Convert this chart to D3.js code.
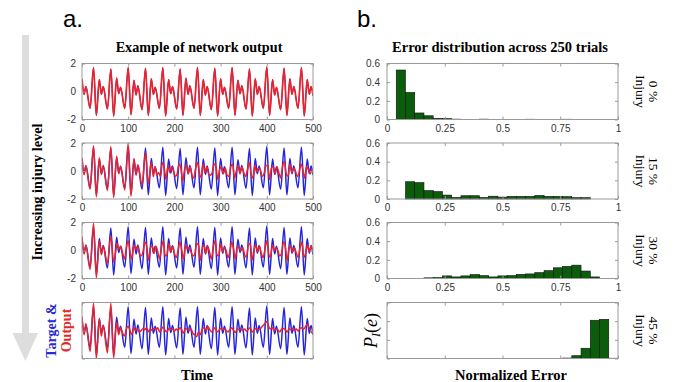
<!DOCTYPE html>
<html>
<head>
<meta charset="utf-8">
<script src="https://cdn.jsdelivr.net/npm/d3@7"></script>
<style>
  body { margin: 0; background: #fff; }
</style>
</head>
<body>
<script>
const target = [
  [0,0.9],[4.5,-0.2],[8.5,0.35],[17.5,-1.2],
  [25,1.7],[31,-1.7],[37.5,0.85],[42,-0.2],[46,0.35],[55,-1.25],
  [62.5,1.6],[68.5,-1.75],[75,0.95],[79.5,-0.15],[83.5,0.3],[92.5,-1.2],
  [100,1.7],[106,-1.65],[112.5,0.8],[117,-0.25],[121,0.4],[130,-1.3],
  [137.5,1.65],[143.5,-1.7],[150,0.9],[154.5,-0.2],[158.5,0.3],[167.5,-1.2],
  [175,1.7],[181,-1.75],[187.5,0.85],[192,-0.15],[196,0.35],[205,-1.25],
  [212.5,1.6],[218.5,-1.7],[225,0.95],[229.5,-0.2],[233.5,0.4],[242.5,-1.2],
  [250,1.7],[256,-1.7],[262.5,0.85],[267,-0.25],[271,0.35],[280,-1.3],
  [287.5,1.65],[293.5,-1.75],[300,0.9],[304.5,-0.2],[308.5,0.3],[317.5,-1.2],
  [325,1.7],[331,-1.7],[337.5,0.8],[342,-0.15],[346,0.4],[355,-1.25],
  [362.5,1.6],[368.5,-1.75],[375,0.9],[379.5,-0.2],[383.5,0.35],[392.5,-1.2],
  [400,1.75],[406,-1.7],[412.5,0.85],[417,-0.25],[421,0.3],[430,-1.3],
  [437.5,1.65],[443.5,-1.7],[450,0.9],[454.5,-0.2],[458.5,0.35],[467.5,-1.2],
  [475,1.7],[481,-1.75],[487.5,0.85],[492,-0.2],[496,0.35],[500,-0.3]
];

// network outputs: tracked part as turning points, then samples every 4 time units
const out15Head = [
  [0,0.95],[4.5,-0.25],[8.5,0.4],[17.5,-1.3],[25,1.8],[31,-1.85],[37.5,0.95],[42,-0.25],
  [46,0.4],[55,-1.4],[62.5,1.75],[68.5,-1.9],[75,1.05],[79.5,-0.2],[83.5,0.35],[92.5,-1.35],
  [100,2.0],[106,-1.8],[112.5,0.9],[117,-0.3],[121,0.45],[130,-1.0],[137.5,1.3],[143.5,-0.9],
  [150,0.6],[154.5,-0.4]
];
const out15Start = 158;
const out15Noise = [
  0.3,-0.3,-0.1,-0.4,0.6,0.2,-0.6,0.4,-0.1,0.3,0.0,-0.4,-0.2,0.5,0.2,-0.7,0.1,0.4,-0.2,0.3,
  -0.3,-0.5,0.2,0.6,-0.1,-0.5,0.5,-0.1,0.3,-0.2,-0.3,-0.1,0.5,0.3,-0.6,0.1,0.3,-0.2,0.2,-0.3,
  -0.4,0.3,0.5,-0.5,0.0,0.4,-0.2,0.3,-0.1,-0.4,0.1,0.6,-0.2,-0.5,0.4,-0.1,0.2,0.1,-0.4,-0.2,
  0.4,0.4,-0.6,0.2,0.3,-0.2,0.3,-0.1,-0.5,0.3,0.7,-0.2,-0.4,0.5,-0.1,0.2,0.0,-0.4,-0.1,0.5,
  0.1,-0.5,0.3,0.1,-0.2,0.2
];

const out30Head = [
  [0,1.0],[4.5,-0.25],[8.5,0.4],[17.5,-1.35],[25,1.95],[31,-1.95],[37.5,0.7],[42,-0.3],
  [46,0.3],[55,-0.9],[62.5,1.0],[68.5,-0.8]
];
const out30Start = 72;
const out30Noise = [
  -0.3,0.5,0.1,0.3,-0.2,-0.6,0.2,0.7,-0.1,-0.6,0.4,0.1,0.3,-0.2,-0.4,-0.1,0.6,0.3,-0.7,0.2,
  0.3,-0.2,0.3,-0.1,-0.6,0.2,0.7,-0.4,-0.3,0.5,-0.1,0.3,-0.2,-0.5,0.0,0.6,0.0,-0.6,0.4,0.1,
  0.2,-0.1,-0.4,-0.3,0.5,0.4,-0.7,0.1,0.4,-0.2,0.3,-0.1,-0.6,0.2,0.7,-0.3,-0.4,0.5,-0.1,0.2,
  0.0,-0.5,-0.1,0.6,0.1,-0.6,0.3,0.2,0.0,0.2,-0.3,-0.5,0.4,0.5,-0.7,0.0,0.4,-0.1,0.3,-0.2,
  -0.5,0.1,0.7,-0.2,-0.5,0.4,0.0,0.2,0.0,-0.4,-0.2,0.6,0.3,-0.7,0.1,0.3,-0.1,0.2,-0.2,-0.5,
  0.2,0.6,-0.5,-0.2,0.4,-0.1,0.3,-0.1
];

const out45Head = [
  [0,1.0],[4.5,-0.3],[8.5,0.5],[17.5,-1.5],[25,1.95],[31,-2.0],[37.5,0.8],[42,-0.4],
  [46,0.4],[55,-1.6],[62.5,1.95],[68.5,-1.95],[75,0.6],[79.5,-0.3],[83.5,0.2]
];
const out45Start = 88;
const out45Noise = [
  -0.2,-0.4,0.1,0.3,0.0,-0.3,0.2,0.0,0.1,-0.1,0.0,0.15,0.05,0.2,-0.1,0.1,0.0,0.15,0.05,0.2,
  -0.1,0.1,0.25,0.0,-0.1,0.15,0.05,0.1,-0.05,0.1,0.0,0.2,0.05,-0.2,0.15,0.1,0.0,0.1,-0.2,-0.3,
  -0.45,-0.1,-0.3,0.1,0.2,0.0,0.3,0.1,-0.1,0.05,0.2,-0.1,0.0,0.15,0.05,0.1,0.0,-0.1,0.05,0.2,
  0.0,-0.15,0.1,0.05,0.1,0.0,0.1,-0.05,0.1,0.2,-0.1,0.0,0.15,0.05,0.1,0.2,0.35,0.5,0.65,0.3,
  0.1,0.2,0.0,0.1,0.05,-0.1,0.1,0.15,0.05,-0.1,0.1,0.05,0.1,0.0,0.1,-0.05,0.15,0.2,0.1,0.3,
  0.45,0.2,-0.1,-0.2
];
const noiseStep = 4;

// error histograms, bin width 0.04 from 0 to 1
const binWidth = 0.04;
const hist0  = [0,0.53,0.29,0.07,0.04,0.013,0.01,0.004,0.002,0.001,0.004,0.001,0.001,0.001,0.001,0.003,0.001,0.001,0.001,0.003,0.001,0.001,0.001,0,0];
const hist15 = [0,0,0.185,0.175,0.09,0.08,0.042,0.017,0.035,0.035,0.017,0.03,0.02,0.028,0.028,0.028,0.038,0.028,0.028,0.025,0.014,0.014,0,0,0];
const hist30 = [0,0,0,0.002,0.007,0.01,0.028,0.017,0.028,0.042,0.031,0.017,0.028,0.031,0.045,0.049,0.063,0.084,0.115,0.13,0.143,0.08,0.017,0,0];
const hist45 = [0,0,0,0,0,0,0,0,0,0,0,0,0.001,0,0.001,0.001,0,0.001,0.002,0.005,0.03,0.11,0.41,0.42,0.003];

const timeTicks = [0,100,200,300,400,500];
const signalTicks = [-2,0,2];
const signalLabels = ["-2","0","2"];
const errorTicks = [0,0.25,0.5,0.75,1];
const errorLabels = ["0","0.25","0.5","0.75","1"];
const probTicks = [0,0.2,0.4,0.6];
const probLabels = ["0","0.2","0.4","0.6"];
const injuryLevels = ["0 %","15 %","30 %","45 %"];

const W = 677, H = 382;
const panelTops = [63.5, 143, 222.5, 302.5];
const panelH = 56;
const blue = "#2424dc", red = "#e8232b", frameColor = "#9a9a9a";
const serif = "'Liberation Serif', 'Times New Roman', serif";
const sans = "'Liberation Sans', Arial, sans-serif";

const svg = d3.select("body").append("svg")
    .attr("width", W).attr("height", H)
    .style("background", "#fff");

const tX = d3.scaleLinear().domain([0, 500]).range([82, 313]);
const eX = d3.scaleLinear().domain([0, 1]).range([387, 618]);

function withNoise(head, start, values) {
    return head.concat(values.map((v, i) => [start + i * noiseStep, v]));
}
const outputs = [
    target,
    withNoise(out15Head, out15Start, out15Noise),
    withNoise(out30Head, out30Start, out30Noise),
    withNoise(out45Head, out45Start, out45Noise)
];
const hists = [hist0, hist15, hist30, hist45];

function styleAxis(g) {
    g.attr("font-family", sans).attr("font-size", 10);
    g.select(".domain").remove();
    g.selectAll(".tick line").attr("stroke", frameColor);
    g.selectAll(".tick text").attr("fill", "#333");
}

function drawAxes(g, x, y, xTicks, xLabels, yTicks, yLabels, show, yPad) {
    const x0 = x.range()[0], x1 = x.range()[1];
    g.append("g").attr("transform", `translate(0,${panelH})`)
        .call(d3.axisBottom(x).tickValues(xTicks).tickSize(-3).tickPadding(5)
            .tickFormat((d, i) => show ? xLabels[i] : ""))
        .call(styleAxis);
    g.append("g")
        .call(d3.axisTop(x).tickValues(xTicks).tickSize(-3).tickFormat(""))
        .call(styleAxis);
    g.append("g").attr("transform", `translate(${x0},0)`)
        .call(d3.axisLeft(y).tickValues(yTicks).tickSize(-3).tickPadding(yPad)
            .tickFormat((d, i) => show ? yLabels[i] : ""))
        .call(styleAxis);
    g.append("g").attr("transform", `translate(${x1},0)`)
        .call(d3.axisRight(y).tickValues(yTicks).tickSize(-3).tickFormat(""))
        .call(styleAxis);
    g.append("rect")
        .attr("x", x0).attr("y", 0).attr("width", x1 - x0).attr("height", panelH)
        .attr("fill", "none").attr("stroke", frameColor).attr("stroke-width", 1);
}

// ---- a. network output panels ----
const sigY = d3.scaleLinear().domain([-2, 2]).range([panelH, 0]);
const line = d3.line()
    .x(d => tX(d[0])).y(d => sigY(d[1]))
    .curve(d3.curveMonotoneX);

svg.append("defs").append("clipPath").attr("id", "sigClip")
    .append("rect").attr("x", tX(0)).attr("y", -1).attr("width", tX(500) - tX(0)).attr("height", panelH + 2);

outputs.forEach((out, i) => {
    const g = svg.append("g").attr("transform", `translate(0,${panelTops[i]})`);
    const plot = g.append("g").attr("clip-path", "url(#sigClip)");
    plot.append("path").attr("d", line(target))
        .attr("fill", "none").attr("stroke", blue).attr("stroke-width", i === 0 ? 1.1 : 1.5);
    plot.append("path").attr("d", line(out))
        .attr("fill", "none").attr("stroke", red).attr("stroke-width", i === 0 ? 1.7 : 1.5)
        .attr("stroke-linejoin", "round");
    drawAxes(g, tX, sigY, timeTicks, timeTicks.map(String), signalTicks, signalLabels, i < 3, 6);
});

// ---- b. error histograms ----
const pY = d3.scaleLinear().domain([0, 0.6]).range([panelH, 0]);

hists.forEach((vals, i) => {
    const g = svg.append("g").attr("transform", `translate(0,${panelTops[i]})`);
    g.append("g").selectAll("rect")
        .data(vals)
        .join("rect")
        .attr("x", (d, j) => eX(j * binWidth))
        .attr("width", (d, j) => eX((j + 1) * binWidth) - eX(j * binWidth))
        .attr("y", d => pY(d))
        .attr("height", d => pY(0) - pY(d))
        .attr("fill", "#0b5c0b")
        .attr("stroke", "#111")
        .attr("stroke-width", 0.6);
    drawAxes(g, eX, pY, errorTicks, errorLabels, probTicks, probLabels, i < 3, 7);

    const cy = panelTops[i] + panelH / 2;
    svg.append("text")
        .attr("transform", `translate(649,${cy}) rotate(90)`)
        .attr("text-anchor", "middle")
        .attr("font-family", serif).attr("font-size", 13.5)
        .text(injuryLevels[i]);
    svg.append("text")
        .attr("transform", `translate(636,${cy}) rotate(90)`)
        .attr("text-anchor", "middle")
        .attr("font-family", serif).attr("font-size", 13.5)
        .text("Injury");
});

// ---- labels ----
svg.append("text").attr("x", 63).attr("y", 27)
    .attr("font-family", sans).attr("font-size", 24).text("a.");
svg.append("text").attr("x", 357).attr("y", 27)
    .attr("font-family", sans).attr("font-size", 24).text("b.");

svg.append("text").attr("x", 199).attr("y", 52).attr("text-anchor", "middle")
    .attr("font-family", serif).attr("font-size", 14.2).attr("font-weight", "bold")
    .text("Example of network output");
svg.append("text").attr("x", 500).attr("y", 52).attr("text-anchor", "middle")
    .attr("font-family", serif).attr("font-size", 14.5).attr("font-weight", "bold")
    .text("Error distribution across 250 trials");

svg.append("text").attr("x", 197).attr("y", 380).attr("text-anchor", "middle")
    .attr("font-family", serif).attr("font-size", 14.5).attr("font-weight", "bold")
    .text("Time");
svg.append("text").attr("x", 511).attr("y", 380).attr("text-anchor", "middle")
    .attr("font-family", serif).attr("font-size", 14.5).attr("font-weight", "bold")
    .text("Normalized Error");

// injury arrow
svg.append("rect").attr("x", 22).attr("y", 35).attr("width", 7).attr("height", 300)
    .attr("fill", "#dddddd");
svg.append("path").attr("d", "M12.5,333 L38,333 L25.3,361 Z").attr("fill", "#dddddd");

svg.append("text")
    .attr("transform", "translate(42,192) rotate(-90)")
    .attr("text-anchor", "middle")
    .attr("font-family", serif).attr("font-size", 14.3).attr("font-weight", "bold")
    .text("Increasing injury level");

const cy4 = panelTops[3] + panelH / 2;
svg.append("text")
    .attr("transform", `translate(56,${cy4}) rotate(-90)`)
    .attr("text-anchor", "middle")
    .attr("font-family", serif).attr("font-size", 14).attr("font-weight", "bold")
    .attr("fill", "#2a2ad0")
    .text("Target &");
svg.append("text")
    .attr("transform", `translate(71,${cy4}) rotate(-90)`)
    .attr("text-anchor", "middle")
    .attr("font-family", serif).attr("font-size", 14).attr("font-weight", "bold")
    .attr("fill", "#e02a2a")
    .text("Output");

const pl = svg.append("text")
    .attr("transform", `translate(377,${cy4}) rotate(-90)`)
    .attr("text-anchor", "middle")
    .attr("font-family", serif).attr("font-size", 18);
pl.append("tspan").attr("font-style", "italic").text("P");
pl.append("tspan").attr("font-style", "italic").attr("font-size", 12).attr("dy", 3).text("I");
pl.append("tspan").attr("dy", -3).text("(");
pl.append("tspan").attr("font-style", "italic").text("e");
pl.append("tspan").text(")");
</script>
</body>
</html>
